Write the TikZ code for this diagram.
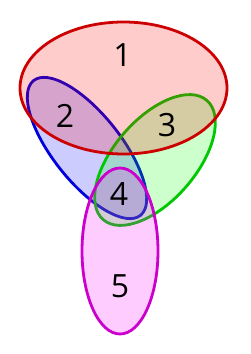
\documentclass[tikz,border=0pt]{standalone}
\usepackage{fontspec}
\setmainfont{Open Sans}
\begin{document}
\begin{tikzpicture}[x=1pt,y=1pt,
  setshape/.style={line width=2.8pt, fill opacity=0.2, draw opacity=1},
  lbl/.style={font=\fontsize{32}{32}\selectfont, text=black, inner sep=0pt}]
\useasboundingbox (0,0) rectangle (250,354);
\definecolor{sred}{RGB}{204,0,0}
\definecolor{sblue}{RGB}{0,0,220}
\definecolor{sgreen}{RGB}{0,200,0}
\definecolor{smag}{RGB}{204,0,204}
\definecolor{fmag}{RGB}{255,0,255}
% blue (2)
\draw[setshape, draw=sblue, fill=blue] (87,206) ellipse[x radius=86, y radius=34, rotate=-51.6];
% green (3)
\draw[setshape, draw=sgreen, fill=green] (155,194) ellipse[x radius=79, y radius=41, rotate=49];
% magenta (5)
\draw[setshape, draw=smag, fill=fmag] (120,103) ellipse[x radius=38, y radius=83];
% red (1)
\draw[setshape, draw=sred, fill=red] (123.5,266) ellipse[x radius=103.5, y radius=66];
\node[lbl] (l1) at (122.5,299) {1};
\node[lbl] (l2) at (65,238) {2};
\node[lbl] (l3) at (167,229) {3};
\node[lbl] (l4) at (119,160) {4};
\node[lbl] (l5) at (120,68) {5};
\end{tikzpicture}
\end{document}
